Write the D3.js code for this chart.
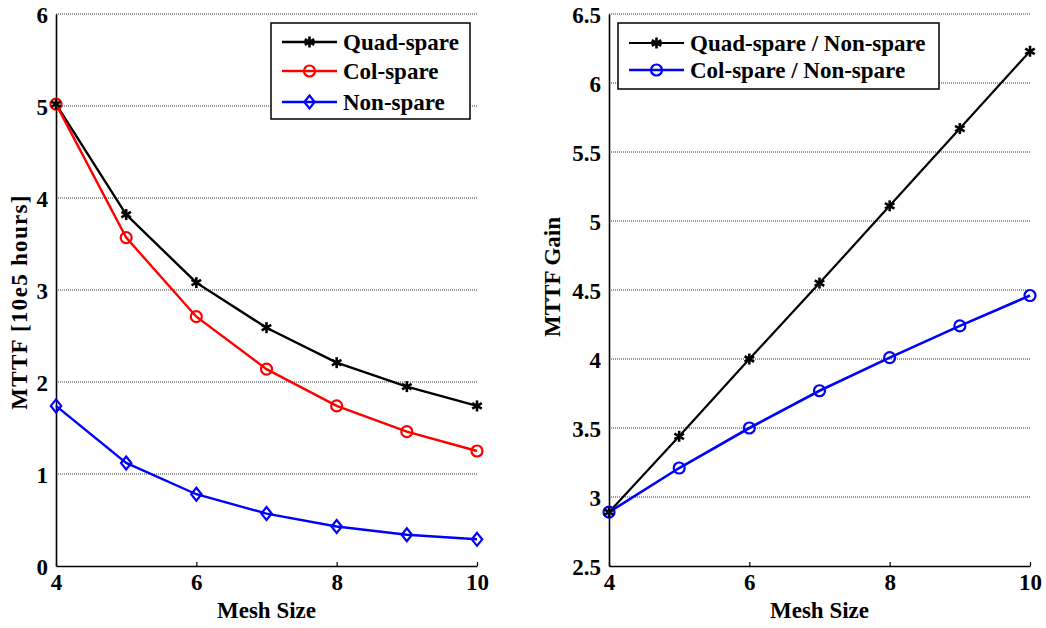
<!DOCTYPE html>
<html><head><meta charset="utf-8">
<script src="https://cdn.jsdelivr.net/npm/d3@7"></script>
<style>body{margin:0;background:#fff}svg{display:block}</style>
</head><body>
<svg id="c" width="1046" height="628"></svg>
<script>
const meshSizes = [4, 5, 6, 7, 8, 9, 10];
const quadSpare = [5.02, 3.82, 3.08, 2.59, 2.21, 1.95, 1.74];
const colSpare  = [5.02, 3.57, 2.71, 2.14, 1.74, 1.46, 1.25];
const nonSpare  = [1.74, 1.12, 0.78, 0.57, 0.43, 0.34, 0.29];
const quadGain  = [2.89, 3.44, 4.00, 4.55, 5.11, 5.67, 6.23];
const colGain   = [2.89, 3.21, 3.50, 3.77, 4.01, 4.24, 4.46];
const xTicks = [4, 6, 8, 10];
const leftYTicks = [0, 1, 2, 3, 4, 5, 6];
const rightYTicks = [2.5, 3, 3.5, 4, 4.5, 5, 5.5, 6, 6.5];

const svg = d3.select("#c");
const FONT = "'Liberation Serif','Times New Roman',serif";
const FS = 23;

function star(g, x, y, color) {
  const r = 5.5;
  const s = g.append("g").attr("transform", `translate(${x},${y})`);
  [0, 60, 120].forEach(a => {
    const rad = a * Math.PI / 180;
    s.append("line").attr("x1", -r*Math.sin(rad)).attr("y1", -r*Math.cos(rad))
      .attr("x2", r*Math.sin(rad)).attr("y2", r*Math.cos(rad))
      .attr("stroke", color).attr("stroke-width", 2.6);
  });
}
function circ(g, x, y, color) {
  g.append("circle").attr("cx", x).attr("cy", y).attr("r", 5.5)
    .attr("fill", "none").attr("stroke", color).attr("stroke-width", 2.2);
}
function diam(g, x, y, color) {
  const r = 6.5;
  g.append("path").attr("d", `M${x},${y-r}L${x+r*0.8},${y}L${x},${y+r}L${x-r*0.8},${y}Z`)
    .attr("fill", "none").attr("stroke", color).attr("stroke-width", 2.2);
}

function panel(opts) {
  const g = svg.append("g");
  const x = d3.scaleLinear().domain([4, 10]).range([opts.x0, opts.x1]);
  const y = d3.scaleLinear().domain(opts.yDomain).range([566, 14]);
  opts.yTicks.forEach(t => {
    if (t === opts.yDomain[0]) return;
    g.append("line").attr("x1", x(4)).attr("x2", x(10)).attr("y1", y(t)).attr("y2", y(t))
      .attr("stroke", "#333").attr("stroke-width", 1).attr("stroke-dasharray", "1,1");
  });
  const ax = g.append("g").attr("transform", "translate(0,566)")
    .call(d3.axisBottom(x).tickValues(xTicks).tickFormat(d3.format("d"))
      .tickSizeInner(-4).tickSizeOuter(0).tickPadding(8));
  ax.select(".domain").attr("stroke", "#000").attr("stroke-width", 1.6);
  ax.selectAll(".tick line").attr("stroke", "#000").attr("stroke-width", 1.2);
  ax.selectAll("text").attr("font-family", FONT).attr("font-weight", "bold")
    .attr("font-size", FS).attr("fill", "#000").attr("dy", "0.71em");
  const ay = g.append("g").attr("transform", `translate(${opts.x0},0)`)
    .call(d3.axisLeft(y).tickValues(opts.yTicks).tickSize(0).tickPadding(8).tickFormat(d3.format("")));
  ay.select(".domain").attr("stroke", "#000").attr("stroke-width", 1.6);
  ay.selectAll("text").attr("font-family", FONT).attr("font-weight", "bold")
    .attr("font-size", FS).attr("fill", "#000").attr("dy", "0.35em");
  g.append("text").attr("x", (opts.x0 + opts.x1) / 2).attr("y", 618).attr("text-anchor", "middle")
    .attr("font-family", FONT).attr("font-weight", "bold").attr("font-size", FS).text("Mesh Size");
  g.append("text").attr("transform", `translate(${opts.yLabelX},${opts.yLabelY}) rotate(-90)`)
    .attr("text-anchor", "middle").attr("letter-spacing", opts.yLabelSpacing)
    .attr("font-family", FONT).attr("font-weight", "bold").attr("font-size", FS).text(opts.yLabel);
  opts.series.forEach(s => {
    const line = d3.line().x((d, i) => x(meshSizes[i])).y(d => y(d));
    g.append("path").datum(s.values).attr("d", line).attr("fill", "none")
      .attr("stroke", s.color).attr("stroke-width", s.width);
  });
  opts.series.slice().reverse().forEach(s => {
    s.values.forEach((v, i) => s.marker(g, x(meshSizes[i]), y(v), s.color));
  });
  const L = opts.legend;
  g.append("rect").attr("x", L.x).attr("y", L.y).attr("width", L.w).attr("height", L.h)
    .attr("fill", "#fff").attr("stroke", "#000").attr("stroke-width", 1.5);
  opts.series.forEach((s, i) => {
    const yy = L.y + L.rows[i];
    g.append("line").attr("x1", L.x + 11).attr("x2", L.x + 66).attr("y1", yy).attr("y2", yy)
      .attr("stroke", s.color).attr("stroke-width", s.width);
    s.marker(g, L.x + 38.5, yy, s.color);
    g.append("text").attr("x", L.x + 72).attr("y", yy + 8).attr("font-family", FONT)
      .attr("font-weight", "bold").attr("font-size", FS).text(s.name);
  });
}

panel({
  x0: 56, x1: 477, yDomain: [0, 6], yTicks: leftYTicks,
  yLabel: "MTTF [10e5 hours]", yLabelX: 27, yLabelY: 302, yLabelSpacing: 1.3,
  series: [
    {name: "Quad-spare", values: quadSpare, color: "#000", width: 2.4, marker: star},
    {name: "Col-spare", values: colSpare, color: "#ff0000", width: 2.4, marker: circ},
    {name: "Non-spare", values: nonSpare, color: "#0000ff", width: 2.4, marker: diam}
  ],
  legend: {x: 271, y: 23, w: 199, h: 96, rows: [19, 48, 79]}
});
panel({
  x0: 609, x1: 1030, yDomain: [2.5, 6.5], yTicks: rightYTicks,
  yLabel: "MTTF Gain", yLabelX: 560, yLabelY: 277, yLabelSpacing: 0,
  series: [
    {name: "Quad-spare / Non-spare", values: quadGain, color: "#000", width: 2.2, marker: star},
    {name: "Col-spare / Non-spare", values: colGain, color: "#0000ff", width: 2.6, marker: circ}
  ],
  legend: {x: 618, y: 23, w: 321, h: 66, rows: [20, 47]}
});
</script>
</body></html>
